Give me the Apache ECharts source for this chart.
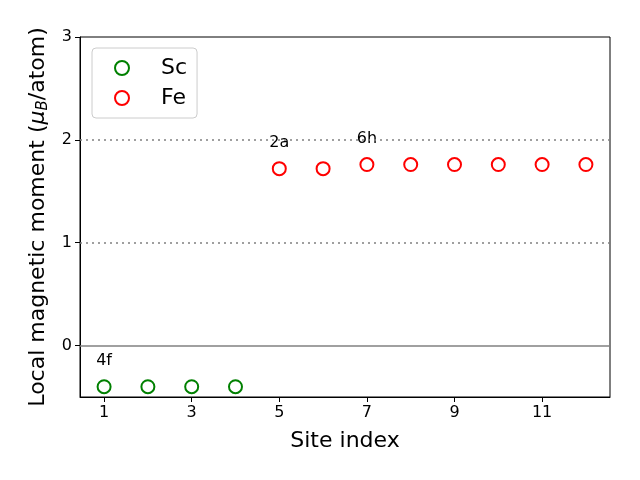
<!DOCTYPE html>
<html><head><meta charset="utf-8">
<script src="https://cdn.jsdelivr.net/npm/echarts@6/dist/echarts.min.js"></script>
<style>html,body{margin:0;padding:0;background:#fff}#c{width:640px;height:480px}</style>
</head><body><div id="c"></div>
<script>
const scX = [1, 2, 3, 4];
const scY = [-0.40, -0.40, -0.40, -0.40];
const feX = [5, 6, 7, 8, 9, 10, 11, 12];
const feY = [1.72, 1.72, 1.76, 1.76, 1.76, 1.76, 1.76, 1.76];
const annText = ['4f', '2a', '6h'];
const annX = [1, 5, 7];
const annY = [-0.15, 1.97, 2.01];
const xTicks = [1, 3, 5, 7, 9, 11];
const yTicks = [0, 1, 2, 3];
const refSolid = [0];
const refDotted = [1, 2];

const font = 'DejaVu Sans';
const chart = echarts.init(document.getElementById('c'));
chart.setOption({
  animation: false,
  textStyle: {fontFamily: font},
  grid: {left: 80, right: 30, top: 37, bottom: 83, show: true, borderColor: '#000', borderWidth: 1, backgroundColor: 'transparent'},
  legend: {
    left: 92, top: 48, orient: 'vertical', padding: [9, 10, 9, 22],
    borderColor: '#ccc', borderWidth: 1, borderRadius: 4, backgroundColor: '#fff',
    itemWidth: 14, itemHeight: 14, itemGap: 8,
    textStyle: {fontSize: 22, color: '#000', fontFamily: font, padding: [0, 0, 0, 27]},
    data: [{name: 'Sc', icon: 'emptyCircle'}, {name: 'Fe', icon: 'emptyCircle'}]
  },
  xAxis: {
    type: 'value', min: 0.45, max: 12.55,
    name: 'Site index', nameLocation: 'middle', nameGap: 33,
    nameTextStyle: {fontSize: 22, color: '#000', fontFamily: font},
    axisLine: {show: true, onZero: false, lineStyle: {color: '#000'}},
    axisTick: {show: true, length: 5, customValues: xTicks, lineStyle: {color: '#000'}},
    axisLabel: {fontSize: 16, color: '#000', margin: 8, customValues: xTicks, fontFamily: font},
    splitLine: {show: false}
  },
  yAxis: {
    type: 'value', min: -0.5, max: 3,
    name: '{a|Local magnetic moment (}{i|μ}{s|B}{a|/atom)}', nameLocation: 'middle', nameGap: 24,
    nameTextStyle: {fontSize: 22, color: '#000', fontFamily: font,
      rich: {a: {fontSize: 22, color: '#000', fontFamily: font},
             i: {fontSize: 22, color: '#000', fontStyle: 'italic', fontFamily: font},
             s: {fontSize: 15, color: '#000', fontStyle: 'italic', verticalAlign: 'bottom', padding: [10, 0, 0, 0], fontFamily: font}}},
    axisLine: {show: true, onZero: false, lineStyle: {color: '#000'}},
    axisTick: {show: true, length: 5, customValues: yTicks, lineStyle: {color: '#000'}},
    axisLabel: {fontSize: 16, color: '#000', margin: 8, customValues: yTicks, fontFamily: font},
    splitLine: {show: false}
  },
  series: [
    {
      name: 'Sc', type: 'scatter', symbol: 'emptyCircle', symbolSize: 13,
      itemStyle: {color: 'green', borderColor: 'green', borderWidth: 1.2, opacity: 1},
      data: scX.map((x, i) => [x, scY[i]]), z: 3,
      markLine: {
        silent: true, symbol: 'none', label: {show: false},
        data: refSolid.map(v => ({yAxis: v, lineStyle: {color: '#808080', type: 'solid', width: 1.5}}))
          .concat(refDotted.map(v => ({yAxis: v, lineStyle: {color: '#808080', type: [2, 4], width: 1.5}})))
      }
    },
    {
      name: 'Fe', type: 'scatter', symbol: 'emptyCircle', symbolSize: 13,
      itemStyle: {color: 'red', borderColor: 'red', borderWidth: 1.2, opacity: 1},
      data: feX.map((x, i) => [x, feY[i]]), z: 3
    },
    {
      name: 'ann', type: 'scatter', symbolSize: 0, silent: true, z: 4,
      itemStyle: {opacity: 1},
      data: annX.map((x, i) => ({value: [x, annY[i]], label: {formatter: annText[i]}})),
      label: {show: true, position: 'inside', fontSize: 16, color: '#000', opacity: 1, fontFamily: font}
    }
  ]
});
</script></body></html>
